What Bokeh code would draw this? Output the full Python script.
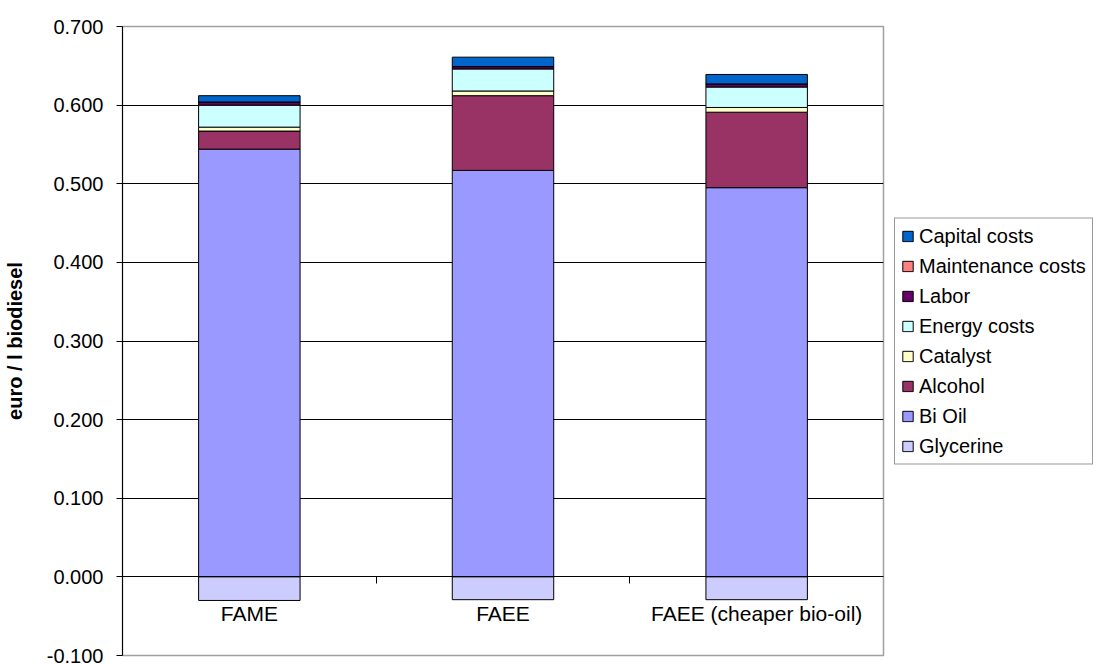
import numpy as np
from bokeh.plotting import figure
from bokeh.models import (Range1d, LinearAxis, FixedTicker, NumeralTickFormatter,
                          Legend, LegendItem, ColumnDataSource)
from bokeh.embed import file_html
from bokeh.resources import INLINE

categories = ["FAME", "FAEE", "FAEE (cheaper bio-oil)"]
bi_oil = [0.544, 0.517, 0.495]
alcohol = [0.023, 0.095, 0.096]
catalyst = [0.005, 0.006, 0.006]
energy = [0.028, 0.028, 0.026]
labor = [0.004, 0.003, 0.004]
maintenance = [0.0, 0.0, 0.0]
capital = [0.008, 0.012, 0.012]
glycerine = [-0.030, -0.029, -0.029]

y_ticks = [-0.1, 0.0, 0.1, 0.2, 0.3, 0.4, 0.5, 0.6, 0.7]

series_names = ["Bi Oil", "Alcohol", "Catalyst", "Energy costs", "Labor",
                "Maintenance costs", "Capital costs"]
series_keys = ["bi_oil", "alcohol", "catalyst", "energy", "labor", "maintenance", "capital"]
series_colors = ["#9999FF", "#993366", "#FFFFCC", "#CCFFFF", "#660066", "#FF8080", "#0066CC"]
glycerine_color = "#CCCCFF"

FONT = "Liberation Sans"

n = len(categories)
xpos = [i + 0.5 for i in range(n)]
src = ColumnDataSource(dict(x=xpos, bi_oil=bi_oil, alcohol=alcohol, catalyst=catalyst,
                            energy=energy, labor=labor, maintenance=maintenance,
                            capital=capital, glycerine=glycerine, zero=[0.0] * n))

p = figure(frame_width=761, frame_height=629, output_backend="svg", toolbar_location=None,
           x_range=Range1d(0, n), y_range=Range1d(y_ticks[0], y_ticks[-1]),
           x_axis_location=None, y_axis_location="left",
           min_border_left=122, min_border_right=0, min_border_top=26,
           min_border_bottom=9)
p.background_fill_color = "white"
p.border_fill_color = "white"
p.outline_line_color = "#A0A0A0"
p.outline_line_width = 1.5

# y axis
ya = p.yaxis[0]
ya.ticker = FixedTicker(ticks=y_ticks)
ya.formatter = NumeralTickFormatter(format="0.000")
ya.major_tick_out = 6
ya.major_tick_in = 0
ya.minor_tick_line_color = None
ya.axis_line_color = "black"
ya.major_tick_line_color = "black"
ya.major_label_text_font = FONT
ya.major_label_text_font_size = "20px"
ya.major_label_text_color = "black"
ya.major_label_standoff = 13
ya.axis_label = "euro / l biodiesel"
ya.axis_label_text_font = FONT
ya.axis_label_text_font_size = "20px"
ya.axis_label_text_font_style = "bold"
ya.axis_label_text_color = "black"
ya.axis_label_standoff = 18

p.xgrid.visible = False
p.ygrid.ticker = FixedTicker(ticks=y_ticks[1:-1])
p.ygrid.grid_line_color = "black"
p.ygrid.grid_line_width = 1

# x axis at zero: labels at bar centres, minor ticks at category boundaries
xl = LinearAxis(fixed_location=0,
                ticker=FixedTicker(ticks=xpos, minor_ticks=list(range(1, n))),
                major_label_overrides={x: c for x, c in zip(xpos, categories)},
                major_tick_out=0, major_tick_in=0, major_tick_line_color=None,
                minor_tick_out=7, minor_tick_in=0, minor_tick_line_color="black",
                axis_line_color="black",
                major_label_text_font=FONT, major_label_text_font_size="21px",
                major_label_text_color="black", major_label_standoff=18)
p.add_layout(xl, "below")

renderers = p.vbar_stack(series_keys, x="x", width=0.4, source=src,
                         fill_color=series_colors, line_color="black", line_width=1)
g = p.vbar(x="x", top="zero", bottom="glycerine", width=0.4, source=src,
           fill_color=glycerine_color, line_color="black", line_width=1)

items = [LegendItem(label=nm, renderers=[r]) for nm, r in zip(series_names, renderers)]
items = items[::-1] + [LegendItem(label="Glycerine", renderers=[g])]
legend = Legend(items=items, location="center_left", orientation="vertical",
                label_text_font=FONT, label_text_font_size="20px",
                label_text_color="black", glyph_width=13, glyph_height=13,
                label_height=20, label_standoff=5, spacing=7, padding=6, margin=11,
                border_line_color="#333333", border_line_width=1,
                background_fill_color="white", background_fill_alpha=1)
p.add_layout(legend, "right")

open("out.html", "w").write(file_html(p, INLINE))
